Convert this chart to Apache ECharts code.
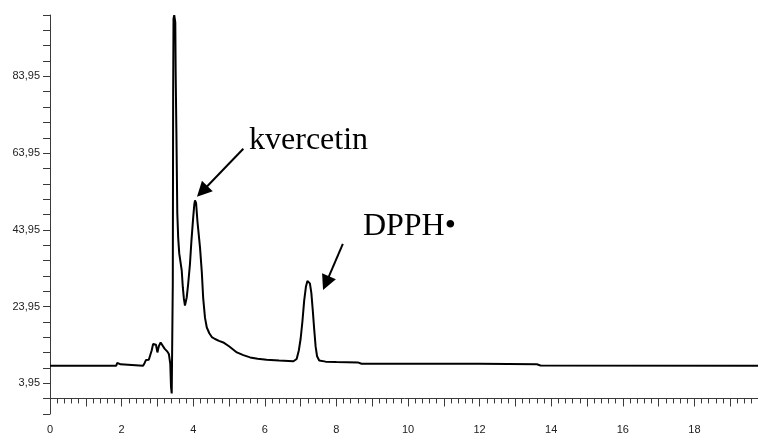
<!DOCTYPE html>
<html>
<head>
<meta charset="utf-8">
<script src="https://cdn.jsdelivr.net/npm/echarts@6/dist/echarts.min.js"></script>
<style>html,body{margin:0;padding:0;background:#fff;overflow:hidden;}#c{width:758px;height:434px;}</style>
</head>
<body>
<div id="c"></div>
<script>
// retention time (min)
var times = [0.00,1.85,1.88,1.93,1.97,2.02,2.60,2.64,2.68,2.76,2.80,2.84,2.88,2.92,2.96,3.00,3.04,3.09,3.14,3.20,3.28,3.32,3.36,3.38,3.40,3.42,
  3.43,3.44,3.45,3.47,3.50,3.51,3.53,3.556,3.58,3.61,3.68,3.71,3.74,3.77,3.82,3.86,3.91,3.95,4.00,4.03,4.05,4.08,4.12,4.19,4.24,4.28,4.33,4.38,
  4.45,4.52,4.61,4.72,4.84,5.00,5.22,5.40,5.59,5.80,6.05,6.40,6.80,6.89,6.95,7.00,7.05,7.10,7.15,7.19,7.22,7.26,7.30,7.34,7.38,7.42,7.46,7.52,
  7.70,8.00,8.60,8.70,10.00,12.00,13.60,13.70,19.80,20.00];
// detector signal
var signal = [8.55,8.55,9.3,9.4,8.9,8.55,8.55,9.2,10.0,10.1,10.3,12.5,14.2,14.7,14.0,12.0,13.6,14.6,14.3,13.0,12.2,11.6,9.0,3.0,1.3,1.6,
  30,80,99,99.9,98,85,70,48.2,42,37.8,33.3,29,26,24.2,26.4,29.9,35.1,41,47.2,50.5,51.6,51.0,46,39.4,33,26,21,18.5,
  17.0,16.0,15.5,15.0,14.6,13.6,12.0,11.3,10.7,10.35,10.1,9.9,9.7,10.3,12.5,15.5,20,25.5,29.2,30.6,30.7,30.0,27.5,23,18,13.5,11.0,9.9,
  9.6,9.5,9.4,9.05,9.05,9.05,8.9,8.6,8.55,8.55];
// annotations
var annotationTexts = ['kvercetin', 'DPPH\u2022'];
var annotationAnchors = [[5.56, 67.2], [8.74, 44.7]];
var arrowStarts = [[5.40, 65.1], [8.18, 40.3]];
var arrowEnds = [[4.25, 53.96], [7.71, 30.05]];
// axes
var xMin = 0, xMax = 20, xInterval = 1;
var yMin = -4.05, yMax = 99.95, yInterval = 4;

var seriesData = times.map(function (t, i) { return [t, signal[i]]; });

var chart = echarts.init(document.getElementById('c'), null, {renderer: 'canvas'});
var axisColor = '#3a3a3a';
chart.setOption({
  animation: false,
  backgroundColor: '#fff',
  grid: {left: 50, top: 15, height: 399, width: 716, containLabel: false, outerBoundsMode: 'none'},
  xAxis: {
    type: 'value', min: xMin, max: xMax, interval: xInterval,
    axisLine: {show: true, lineStyle: {color: axisColor, width: 1}},
    axisTick: {show: true, length: 8, lineStyle: {color: axisColor}},
    minorTick: {show: true, splitNumber: 5, length: 5, lineStyle: {color: axisColor}},
    splitLine: {show: false},
    axisLabel: {
      margin: 10, color: '#222', fontFamily: 'Liberation Sans', fontSize: 11,
      formatter: function (v) { var r = Math.round(v); return (Math.abs(v - r) < 1e-6 && r % 2 === 0 && r < 20) ? String(r) : ''; }
    }
  },
  yAxis: {
    type: 'value', min: yMin, max: yMax, interval: yInterval,
    axisLine: {show: true, lineStyle: {color: axisColor, width: 1}},
    axisTick: {show: true, length: 7, lineStyle: {color: axisColor}},
    splitLine: {show: false},
    axisLabel: {
      margin: 10, color: '#222', fontFamily: 'Liberation Sans', fontSize: 11,
      formatter: function (v) {
        var k = (v - 3.95) / 20;
        if (Math.abs(k - Math.round(k)) < 1e-6 && Math.round(k) >= 0 && Math.round(k) <= 4) {
          return v.toFixed(2).replace('.', ',');
        }
        return '';
      }
    }
  },
  series: [{
    type: 'line',
    data: seriesData,
    showSymbol: false,
    symbol: 'none',
    lineStyle: {color: '#000', width: 2},
    clip: true,
    silent: true,
    markLine: {
      silent: true,
      symbol: ['none', 'triangle'],
      symbolSize: 15,
      lineStyle: {color: '#000', width: 2, type: 'solid'},
      itemStyle: {color: '#000'},
      label: {show: false},
      data: arrowStarts.map(function (s, i) {
        return [{coord: s}, {coord: arrowEnds[i]}];
      })
    },
    markPoint: {
      silent: true,
      symbol: 'circle',
      symbolSize: 0,
      data: annotationTexts.map(function (txt, i) {
        return {
          name: txt, coord: annotationAnchors[i],
          label: {
            show: true, position: 'right', distance: 0, formatter: txt,
            fontFamily: 'Liberation Serif', fontSize: 32, color: '#000',
            align: 'left', verticalAlign: 'middle'
          }
        };
      })
    }
  }]
});
</script>
</body>
</html>
